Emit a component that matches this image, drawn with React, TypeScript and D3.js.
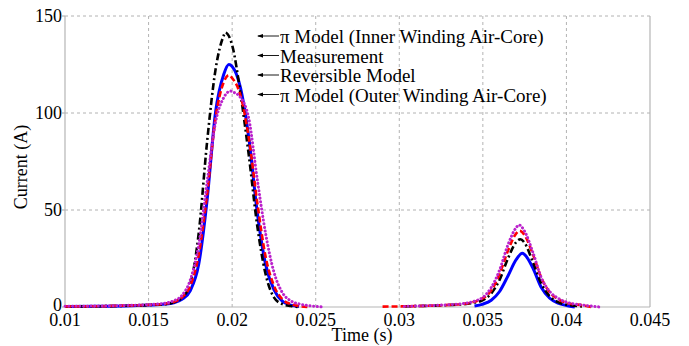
import React, { useEffect, useRef } from "react";
import * as d3 from "d3";

const WIDTH = 689;
const HEIGHT = 346;

const X_TICKS = [0.01, 0.015, 0.02, 0.025, 0.03, 0.035, 0.04, 0.045];
const X_TICK_LABELS = ["0.01", "0.015", "0.02", "0.025", "0.03", "0.035", "0.04", "0.045"];
const Y_TICKS = [0, 50, 100, 150];

// Measurement (blue, solid)
const measT1 = [0.01, 0.012, 0.014, 0.015, 0.016, 0.0165, 0.017, 0.0175, 0.018, 0.0185, 0.019, 0.0195, 0.0198, 0.02, 0.0205, 0.021, 0.0215, 0.022, 0.0225, 0.023, 0.0235, 0.024];
const measI1 = [0.3, 0.4, 0.7, 1.0, 1.5, 2.2, 4.0, 8.5, 22, 55, 100, 120, 125, 124, 113, 87, 49, 22, 9, 3, 1, 0.3];
const measT2 = [0.0345, 0.035, 0.0355, 0.036, 0.0365, 0.037, 0.03736, 0.0375, 0.038, 0.0385, 0.039, 0.0395, 0.04, 0.0405];
const measI2 = [0.5, 1.5, 3.5, 8, 16, 24.5, 27.7, 27, 20, 10, 4.5, 2, 0.8, 0];

// Reversible model (red, dashed)
const revT1 = [0.01, 0.012, 0.014, 0.015, 0.016, 0.0165, 0.017, 0.0175, 0.018, 0.0185, 0.019, 0.0195, 0.0198, 0.02, 0.0205, 0.021, 0.0215, 0.022, 0.0225, 0.023, 0.0235, 0.024, 0.0245];
const revI1 = [0.3, 0.4, 0.8, 1.1, 1.7, 2.6, 5, 11, 27, 58, 97, 116, 119.5, 118, 109, 87, 54, 26, 11, 4, 1.5, 0.5, 0];
const revT2 = [0.029, 0.03, 0.032, 0.033, 0.034, 0.0345, 0.035, 0.0355, 0.036, 0.0365, 0.037, 0.0372, 0.0375, 0.038, 0.0385, 0.039, 0.0395, 0.04, 0.041, 0.0415];
const revI2 = [0.2, 0.3, 0.7, 1.1, 1.8, 2.7, 4.5, 8.5, 17, 29, 38, 39.3, 37, 27, 15, 7.5, 4, 2.2, 0.8, 0];

// pi model, inner winding air-core (black, dash-dot)
const innerT1 = [0.01, 0.012, 0.014, 0.015, 0.016, 0.0165, 0.017, 0.0175, 0.018, 0.0185, 0.019, 0.0195, 0.01958, 0.02, 0.0205, 0.021, 0.0215, 0.022, 0.0225, 0.023, 0.0235, 0.024];
const innerI1 = [0.3, 0.4, 0.7, 1.0, 1.5, 2.4, 4.8, 12, 38, 85, 122, 140, 141.5, 135, 110, 78, 42, 17, 5, 1.5, 0.5, 0];
const innerT2 = [0.0303, 0.032, 0.033, 0.034, 0.0345, 0.035, 0.0355, 0.036, 0.0365, 0.037, 0.03724, 0.0375, 0.038, 0.0385, 0.039, 0.0395, 0.04, 0.041];
const innerI2 = [0.3, 0.7, 1, 1.6, 2.3, 3.5, 7, 14, 25, 33.5, 34.9, 33, 23, 12, 5.5, 2.5, 1.2, 0.3];

// pi model, outer winding air-core (magenta, dotted)
const outerT1 = [0.01, 0.012, 0.014, 0.015, 0.0155, 0.016, 0.0165, 0.017, 0.0175, 0.018, 0.0185, 0.019, 0.0195, 0.0199, 0.02, 0.0205, 0.021, 0.0215, 0.022, 0.0225, 0.023, 0.0235, 0.024, 0.0245, 0.025, 0.0255];
const outerI1 = [0.4, 0.5, 0.9, 1.2, 1.5, 2, 3.2, 6, 14, 32, 64, 95, 108, 111.3, 111, 108, 97, 66, 38, 18, 7.5, 3.2, 1.6, 0.8, 0.3, 0];
const outerT2 = [0.0303, 0.032, 0.033, 0.034, 0.0345, 0.035, 0.0355, 0.036, 0.0365, 0.037, 0.03716, 0.0375, 0.038, 0.0385, 0.039, 0.0395, 0.04, 0.041, 0.042];
const outerI2 = [0.3, 0.8, 1.2, 2, 3, 5, 10, 19, 32, 41, 42.3, 39, 28, 15, 8, 4.5, 2.5, 1, 0];

const ANNOTATIONS = [
  "\u03c0 Model (Inner Winding Air-Core)",
  "Measurement",
  "Reversible Model",
  "\u03c0 Model (Outer Winding Air-Core)",
];

const FONT = "Liberation Serif, Times New Roman, DejaVu Serif, serif";

export default function App() {
  const ref = useRef<SVGSVGElement>(null);

  useEffect(() => {
    const svg = d3.select(ref.current);
    svg.selectAll("*").remove();

    const x = d3.scaleLinear().domain([0.01, 0.045]).range([65, 650]);
    const y = d3.scaleLinear().domain([0, 150]).range([307, 16]);

    // grid
    const grid = svg.append("g").attr("stroke", "#a0a0a0").attr("stroke-width", 0.8).attr("stroke-dasharray", "3 3");
    X_TICKS.slice(1, -1).forEach((t) => {
      grid.append("line").attr("x1", x(t)).attr("x2", x(t)).attr("y1", y(0)).attr("y2", y(150));
    });
    Y_TICKS.slice(1).forEach((v) => {
      grid.append("line").attr("x1", x(0.01)).attr("x2", x(0.045)).attr("y1", y(v)).attr("y2", y(v));
    });

    // axes frame + small outward y ticks
    const frame = svg.append("g").attr("stroke", "#b5b5b5").attr("stroke-width", 1.2);
    frame.append("line").attr("x1", x(0.01)).attr("x2", x(0.01)).attr("y1", y(0)).attr("y2", y(150));
    frame.append("line").attr("x1", x(0.01)).attr("x2", x(0.045)).attr("y1", y(0)).attr("y2", y(0));
    frame.append("line").attr("x1", x(0.045)).attr("x2", x(0.045)).attr("y1", y(0)).attr("y2", y(150));
    Y_TICKS.forEach((v) => {
      frame.append("line").attr("x1", x(0.01) - 3).attr("x2", x(0.01)).attr("y1", y(v)).attr("y2", y(v));
    });

    // tick labels
    svg
      .append("g")
      .selectAll("text")
      .data(X_TICKS)
      .enter()
      .append("text")
      .attr("x", (d) => x(d))
      .attr("y", 326)
      .attr("text-anchor", "middle")
      .style("font-family", FONT)
      .style("font-size", "18px")
      .text((d, i) => X_TICK_LABELS[i]);

    svg
      .append("g")
      .selectAll("text")
      .data(Y_TICKS)
      .enter()
      .append("text")
      .attr("x", 62)
      .attr("y", (d) => y(d) + (d === 0 ? 4 : 6))
      .attr("text-anchor", "end")
      .style("font-family", FONT)
      .style("font-size", "18px")
      .text((d) => String(d));

    svg
      .append("text")
      .attr("transform", "translate(27,167) rotate(-90)")
      .attr("text-anchor", "middle")
      .style("font-family", FONT)
      .style("font-size", "18px")
      .text("Current (A)");

    svg
      .append("text")
      .attr("x", 362)
      .attr("y", 341)
      .attr("text-anchor", "middle")
      .style("font-family", FONT)
      .style("font-size", "18px")
      .text("Time (s)");

    // curves
    const line = d3
      .line<[number, number]>()
      .x((d) => x(d[0]))
      .y((d) => y(d[1]))
      .curve(d3.curveMonotoneX);

    const series = [
      { segs: [[measT1, measI1], [measT2, measI2]], color: "#0000ff", width: 3, dash: null, cap: "butt" },
      { segs: [[innerT1, innerI1], [innerT2, innerI2]], color: "#000000", width: 2.6, dash: "7 3 2 3", cap: "butt" },
      { segs: [[revT1, revI1], [revT2, revI2]], color: "#ff0000", width: 2.6, dash: "6 3", cap: "butt" },
      { segs: [[outerT1, outerI1], [outerT2, outerI2]], color: "#bb22cc", width: 3, dash: "0.1 3.6", cap: "round" },
    ];

    series.forEach((s) => {
      s.segs.forEach(([ts, vs]) => {
        const pts = ts.map((t, i) => [t, vs[i]] as [number, number]);
        svg
          .append("path")
          .attr("d", line(pts))
          .attr("fill", "none")
          .attr("stroke", s.color)
          .attr("stroke-width", s.width)
          .attr("stroke-linecap", s.cap)
          .attr("stroke-dasharray", s.dash);
      });
    });

    // annotations
    const ann = svg.append("g");
    ANNOTATIONS.forEach((label, i) => {
      const by = 43 + i * 19.5;
      ann
        .append("line")
        .attr("x1", 258)
        .attr("x2", 279)
        .attr("y1", by - 7)
        .attr("y2", by - 7)
        .attr("stroke", "#000")
        .attr("stroke-width", 0.9);
      ann
        .append("path")
        .attr("d", `M257,${by - 7} L263,${by - 9} L263,${by - 5} Z`)
        .attr("fill", "#000");
      ann
        .append("text")
        .attr("x", 280)
        .attr("y", by)
        .style("font-family", FONT)
        .style("font-size", "19px")
        .text(label);
    });
  }, []);

  return (
    <svg
      ref={ref}
      width={WIDTH}
      height={HEIGHT}
      style={{ position: "absolute", left: 0, top: 0, background: "#fff" }}
    ></svg>
  );
}
